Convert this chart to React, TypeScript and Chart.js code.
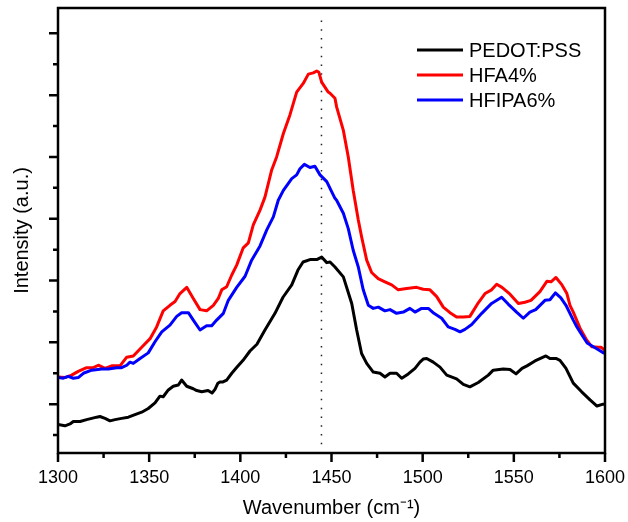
import React, { useEffect, useRef } from 'react';
import { Chart, registerables } from 'chart.js';

Chart.register(...registerables);

// ---- data (wavenumber in cm^-1, intensity in arbitrary units) ----
const pedotWavenumber = [
  1300, 1303.8, 1306.6, 1308.4, 1312.1, 1315.7, 1318.5, 1321.2, 1323.0, 1325.8,
  1328.5, 1331.3, 1334.9, 1338.6, 1342.2, 1345.9, 1349.5, 1353.2, 1355.9, 1357.7,
  1360.5, 1363.2, 1366.0, 1367.8, 1370.6, 1374.2, 1376.1, 1378.8, 1382.3, 1384.5,
  1386.1, 1387.7, 1388.8, 1390.5, 1392.5, 1395.3, 1398.2, 1401.5, 1405.3, 1409.1,
  1413.5, 1419.0, 1423.4, 1428.2, 1431.6, 1434.4, 1438.2, 1441.9, 1444.6, 1447.4,
  1449.2, 1451.9, 1456.5, 1461.1, 1463.8, 1466.5, 1469.3, 1472.9, 1476.6, 1479.3,
  1482.1, 1485.7, 1488.5, 1492.1, 1495.8, 1498.5, 1500.3, 1502.2, 1505.8, 1509.5,
  1513.2, 1518.6, 1522.3, 1525.9, 1530.5, 1536.0, 1538.7, 1544.2, 1547.9, 1551.2,
  1554.5, 1557.2, 1561.6, 1567.6, 1569.8, 1573.1, 1575.3, 1578.6, 1582.6, 1587.2,
  1591.8, 1595.6, 1599.0, 1600,
];
const pedotIntensity = [
  -33, -35, -32, -28, -28, -25, -23, -21, -20, -23,
  -27, -25, -23, -21, -17, -13, -7, 2, 13, 12,
  23, 29, 31, 39, 29, 25, 22, 20, 22, 18,
  24, 34, 36, 36, 39, 50, 60, 71, 86, 97,
  120, 147, 173, 193, 217, 230, 234, 234, 238, 229,
  230, 222, 206, 163, 120, 82, 66, 52, 50, 44,
  50, 50, 42, 49, 58, 68, 73, 74, 68, 60,
  47, 41, 32, 28, 35, 47, 55, 57, 56, 49,
  58, 62, 70, 78, 74, 74, 71, 58, 34, 20,
  7, -3, 0, 0,
];

const hfaWavenumber = [
  1300, 1303.8, 1307.5, 1311.1, 1315.7, 1319.4, 1322.1, 1325.8, 1329.4, 1334.0,
  1337.7, 1341.3, 1345.9, 1350.5, 1354.1, 1357.7, 1361.4, 1364.2, 1366.9, 1370.6,
  1374.2, 1377.9, 1381.5, 1385.2, 1387.9, 1389.8, 1392.5, 1395.3, 1398.0, 1401.6,
  1404.4, 1407.1, 1410.8, 1413.5, 1417.2, 1419.9, 1423.6, 1427.2, 1430.9, 1434.5,
  1437.3, 1440.0, 1441.9, 1443.1, 1444.6, 1448.2, 1449.2, 1451.9, 1452.8, 1456.5,
  1459.2, 1461.9, 1464.7, 1466.5, 1469.3, 1472.0, 1475.6, 1479.3, 1483.0, 1486.6,
  1491.2, 1496.7, 1500.3, 1504.0, 1507.7, 1511.3, 1515.0, 1518.6, 1522.3, 1525.9,
  1530.5, 1534.2, 1537.8, 1540.6, 1543.5, 1547.9, 1552.5, 1556.1, 1559.4, 1564.3,
  1568.2, 1570.4, 1573.1, 1576.4, 1579.1, 1580.8, 1582.6, 1586.3, 1589.9, 1592.7,
  1596.3, 1597.8, 1600,
];
const hfaIntensity = [
  44, 43, 47, 53, 59, 59, 63, 58, 62, 62,
  76, 78, 92, 106, 125, 151, 160, 166, 179, 189,
  171, 153, 151, 160, 171, 185, 190, 209, 225, 253,
  261, 290, 314, 335, 379, 400, 438, 468, 505, 519,
  534, 536, 539, 537, 521, 505, 503, 495, 481, 443,
  400, 346, 298, 271, 233, 213, 203, 198, 193, 185,
  187, 189, 186, 185, 174, 157, 148, 141, 141, 142,
  164, 179, 185, 194, 189, 178, 163, 165, 168, 182,
  199, 198, 205, 193, 179, 160, 149, 123, 104, 93,
  92, 92, 87,
];

const hfipaWavenumber = [
  1300, 1302.9, 1305.6, 1308.4, 1311.1, 1313.9, 1318.5, 1324.0, 1327.6, 1332.2,
  1334.9, 1337.7, 1339.5, 1341.3, 1345.0, 1349.5, 1353.2, 1356.9, 1361.4, 1365.1,
  1367.8, 1371.5, 1374.2, 1377.9, 1381.5, 1384.3, 1387.0, 1390.7, 1393.4, 1398.0,
  1402.6, 1406.2, 1410.8, 1414.5, 1418.1, 1420.8, 1423.6, 1428.2, 1430.9, 1432.7,
  1435.1, 1438.2, 1440.9, 1443.7, 1447.4, 1449.2, 1451.9, 1452.8, 1456.5, 1459.2,
  1461.9, 1464.7, 1467.4, 1470.2, 1472.9, 1475.7, 1479.3, 1482.1, 1485.7, 1489.4,
  1493.0, 1495.8, 1499.4, 1503.1, 1506.2, 1510.4, 1514.0, 1517.7, 1520.5, 1523.2,
  1526.9, 1532.4, 1537.8, 1543.3, 1546.9, 1551.5, 1555.2, 1558.8, 1562.0, 1567.1,
  1569.8, 1572.8, 1575.8, 1578.6, 1582.6, 1584.6, 1586.3, 1590.2, 1595.9, 1599.2,
  1600,
];
const hfipaIntensity = [
  43, 42, 45, 42, 43, 50, 55, 57, 57, 59,
  59, 63, 68, 66, 74, 83, 101, 117, 128, 142,
  148, 148, 136, 120, 127, 127, 136, 147, 168, 189,
  207, 233, 256, 282, 303, 330, 346, 365, 371, 381,
  388, 383, 385, 371, 360, 349, 333, 330, 309, 284,
  249, 222, 185, 160, 155, 157, 151, 153, 147, 149,
  155, 149, 155, 155, 147, 139, 125, 121, 117, 121,
  129, 147, 163, 173, 162, 149, 139, 149, 153, 168,
  169, 180, 172, 160, 136, 125, 117, 99, 89, 83,
  82,
];

const seriesLabels = ['PEDOT:PSS', 'HFA4%', 'HFIPA6%'];
const seriesColors = ['#000000', '#ff0000', '#0000ff'];

const xRange = [1300, 1600];
const yRange = [-79, 641];
const xMajorTicks = [1300, 1350, 1400, 1450, 1500, 1550, 1600];
const xMinorTicks = [1325, 1375, 1425, 1475, 1525, 1575];
const yMajorTicks = [0, 100, 200, 300, 400, 500, 600];
const yMinorTicks = [-50, 50, 150, 250, 350, 450, 550];

const markerWavenumber = 1444.5;
const markerIntensityRange = [-65, 625];

const FONT = "'Liberation Sans', Arial, Helvetica, sans-serif";

const toPoints = (xs: number[], ys: number[]) => xs.map((x, i) => ({ x, y: ys[i] }));

const framePlugin = {
  id: 'frameAndTicks',
  afterDraw(chart: any) {
    const ctx = chart.ctx;
    const { left, right, top, bottom } = chart.chartArea;
    const xs = chart.scales.x;
    const ys = chart.scales.y;
    ctx.save();
    ctx.strokeStyle = '#000';
    ctx.lineWidth = 2.5;
    ctx.lineCap = 'butt';
    ctx.strokeRect(left, top, right - left, bottom - top);
    ctx.beginPath();
    xMajorTicks.forEach((v) => {
      const p = xs.getPixelForValue(v);
      ctx.moveTo(p, bottom);
      ctx.lineTo(p, bottom + 9);
    });
    xMinorTicks.forEach((v) => {
      const p = xs.getPixelForValue(v);
      ctx.moveTo(p, bottom);
      ctx.lineTo(p, bottom + 5);
    });
    yMajorTicks.forEach((v) => {
      const p = ys.getPixelForValue(v);
      ctx.moveTo(left, p);
      ctx.lineTo(left - 9, p);
    });
    yMinorTicks.forEach((v) => {
      const p = ys.getPixelForValue(v);
      ctx.moveTo(left, p);
      ctx.lineTo(left - 5, p);
    });
    ctx.stroke();

    // legend
    ctx.font = `20px ${FONT}`;
    ctx.textBaseline = 'middle';
    ctx.textAlign = 'left';
    seriesLabels.forEach((label, i) => {
      const y = top + 42 + i * 25;
      ctx.beginPath();
      ctx.strokeStyle = seriesColors[i];
      ctx.lineWidth = 3;
      ctx.moveTo(right - 188, y);
      ctx.lineTo(right - 142, y);
      ctx.stroke();
      ctx.fillStyle = '#000';
      ctx.fillText(label, right - 136, y + 1);
    });
    ctx.restore();
  },
};

export default function App() {
  const canvasRef = useRef<HTMLCanvasElement | null>(null);

  useEffect(() => {
    document.body.style.margin = '0';
    const canvas = canvasRef.current;
    if (!canvas) return;

    const line = (label: string, data: any[], color: string, order: number) => ({
      label,
      data,
      borderColor: color,
      backgroundColor: color,
      borderWidth: 3,
      pointRadius: 0,
      tension: 0,
      borderJoinStyle: 'round' as const,
      fill: false,
      order,
    });

    const chart = new Chart(canvas, {
      type: 'line',
      data: {
        datasets: [
          {
            label: 'marker',
            data: [
              { x: markerWavenumber, y: markerIntensityRange[0] },
              { x: markerWavenumber, y: markerIntensityRange[1] },
            ],
            borderColor: '#222',
            borderWidth: 1.5,
            borderDash: [1.5, 7.3],
            pointRadius: 0,
            fill: false,
            order: 4,
          },
          line(seriesLabels[0], toPoints(pedotWavenumber, pedotIntensity), seriesColors[0], 3),
          line(seriesLabels[1], toPoints(hfaWavenumber, hfaIntensity), seriesColors[1], 2),
          line(seriesLabels[2], toPoints(hfipaWavenumber, hfipaIntensity), seriesColors[2], 1),
        ],
      },
      options: {
        animation: false,
        responsive: false,
        devicePixelRatio: 1,
        parsing: false as any,
        layout: { padding: { top: 8, right: 23, bottom: 0, left: 0 } },
        plugins: {
          legend: { display: false },
          tooltip: { enabled: false },
        },
        scales: {
          x: {
            type: 'linear',
            min: xRange[0],
            max: xRange[1],
            grid: { display: false, drawTicks: false },
            border: { display: false },
            ticks: {
              stepSize: 50,
              padding: 14,
              color: '#000',
              font: { family: FONT, size: 18 },
              callback: (v: any) => String(v),
            },
            afterBuildTicks: (s: any) => {
              s.ticks = xMajorTicks.map((v) => ({ value: v }));
            },
            afterFit: (s: any) => {
              s.height = 69;
              s.paddingLeft = 0;
              s.paddingRight = 0;
            },
            title: {
              display: true,
              text: 'Wavenumber (cm⁻¹)',
              color: '#000',
              font: { family: FONT, size: 20 },
              padding: { top: 0, bottom: 2 },
            },
          },
          y: {
            type: 'linear',
            min: yRange[0],
            max: yRange[1],
            grid: { display: false, drawTicks: false },
            border: { display: false },
            ticks: { display: false },
            afterFit: (s: any) => {
              s.width = 58;
              s.paddingTop = 0;
              s.paddingBottom = 0;
            },
            title: {
              display: true,
              text: 'Intensity (a.u.)',
              color: '#000',
              font: { family: FONT, size: 20 },
              padding: { top: 10, bottom: 0 },
            },
          },
        },
      },
      plugins: [framePlugin],
    });

    return () => chart.destroy();
  }, []);

  return (
    <div style={{ width: 628, height: 522 }}>
      <canvas ref={canvasRef} width={628} height={522} style={{ display: 'block' }} />
    </div>
  );
}
